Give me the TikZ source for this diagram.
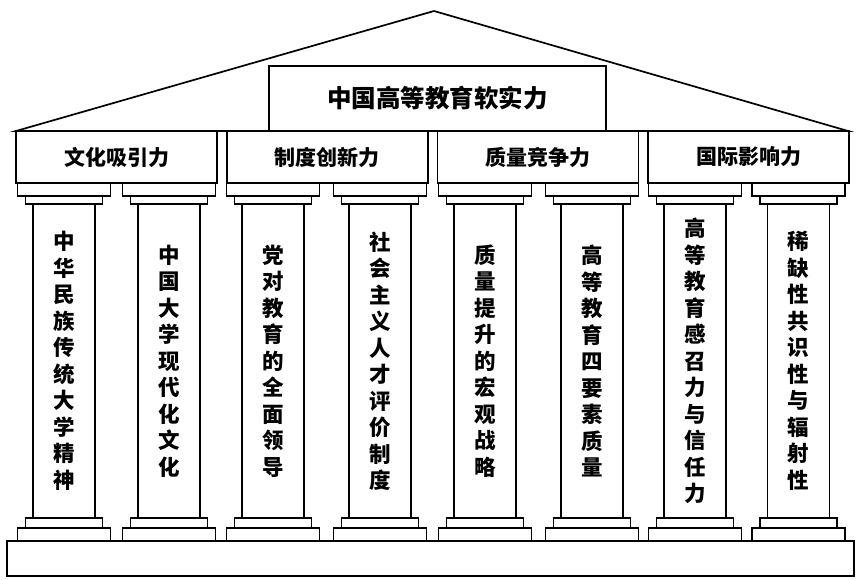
\documentclass[tikz,border=0pt]{standalone}
\usepackage{fontspec}
\newfontfamily\cjk{Noto Sans CJK SC}
\begin{document}
\begin{tikzpicture}[x=1pt, y=-1pt, line join=miter]
	\tikzset{
		mainline/.style={draw, line width=1.7pt},
		titlebox/.style={mainline, fill=white, inner sep=0pt, minimum width=337pt, minimum height=65pt, font=\cjk\bfseries\fontsize{24.5}{24.5}\selectfont},
		catbox/.style={mainline, inner sep=0pt, minimum width=201pt, minimum height=52pt, font=\cjk\bfseries\fontsize{21}{21}\selectfont},
		slab/.style={draw, line width=1.3pt},
		shaft/.style={slab, inner sep=0pt, minimum width=62pt, minimum height=314pt, align=center, font=\cjk\bfseries\fontsize{21.5}{26.5}\selectfont}
	}
	\useasboundingbox (0,0) rectangle (858,579);
	% roof
	\draw[mainline] (16,131) -- (434,11) -- (848,131) -- cycle;
	\node[titlebox] (title) at (437.5,98.5) {中国高等教育软实力};
	% four groups
	\foreach \i/\txt in {0/文化吸引力, 1/制度创新力, 2/质量竞争力, 3/国际影响力}
		\node[catbox] (cat\i) at ({116.5+210.7*\i},157) {\txt};
	% pillars
	\foreach \i/\cx/\txt in {
		1/64/{中\\华\\民\\族\\传\\统\\大\\学\\精\\神},
		2/169/{中\\国\\大\\学\\现\\代\\化\\文\\化},
		3/273/{党\\对\\教\\育\\的\\全\\面\\领\\导},
		4/380/{社\\会\\主\\义\\人\\才\\评\\价\\制\\度},
		5/485/{质\\量\\提\\升\\的\\宏\\观\\战\\略},
		6/592/{高\\等\\教\\育\\四\\要\\素\\质\\量},
		7/695/{高\\等\\教\\育\\感\\召\\力\\与\\信\\任\\力},
		8/798.5/{稀\\缺\\性\\共\\识\\性\\与\\辐\\射\\性}}
	{
		\draw[slab] (\cx-46.5,183) rectangle (\cx+46.5,196);
		\draw[slab] (\cx-38.5,196) rectangle (\cx+38.5,204);
		\node[shaft] (p\i) at (\cx,361) {\txt};
		\draw[slab] (\cx-38.5,518) rectangle (\cx+38.5,528);
		\draw[slab] (\cx-46.5,528) rectangle (\cx+46.5,541);
	}
	% platform
	\draw[mainline] (7,541) rectangle (854,576);
\end{tikzpicture}
\end{document}
